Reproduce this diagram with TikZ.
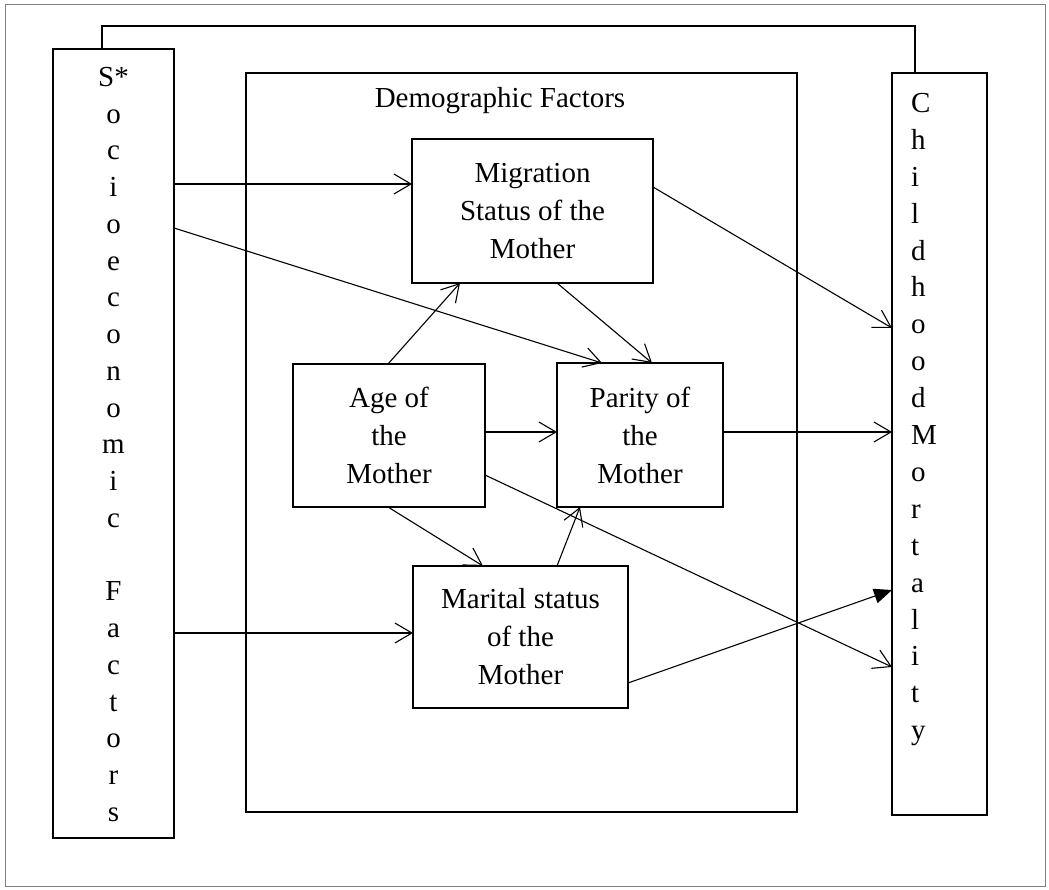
\documentclass[tikz,border=0pt]{standalone}
\usepackage{fontspec}
\setmainfont{Liberation Serif}
\usetikzlibrary{arrows.meta}
\begin{document}
\begin{tikzpicture}[x=1pt,y=-1pt,
  boxed/.style={draw=black,line width=1.6pt,inner sep=0pt,outer sep=0pt,align=center,
    font=\fontsize{29}{38}\selectfont},
  colS/.style={align=center,inner sep=0pt,font=\fontsize{29}{36.75}\selectfont},
  colC/.style={align=left,inner sep=0pt,font=\fontsize{29}{36.9}\selectfont},
  title/.style={inner sep=0pt,font=\fontsize{29}{38}\selectfont},
  arr/.style={line width=1.1pt,-{Straight Barb[length=17pt,width=20pt,line width=1.1pt]}},
  farr/.style={line width=1.1pt,-{Triangle[length=18pt,width=15pt]}},
  link/.style={line width=1.8pt}]
\useasboundingbox (0,0) rectangle (1049,890);
\draw[gray,line width=1pt] (5,5) rectangle (1045,886);
% boxes
\node[boxed,minimum width=121pt,minimum height=789pt] (S) at (113.5,443.5) {};
\node[colS] (Stxt) at (113.5,444.5) {S*\\o\\c\\i\\o\\e\\c\\o\\n\\o\\m\\i\\c\\~\\F\\a\\c\\t\\o\\r\\s};
\node[boxed,minimum width=551pt,minimum height=739pt] (dem) at (521.5,442.5) {};
\node[title] (demt) at (500,101) {Demographic Factors};
\node[boxed,minimum width=95pt,minimum height=742pt] (C) at (939.5,444) {};
\node[colC,anchor=north west] (Ctxt) at (911,93) {C\\h\\i\\l\\d\\h\\o\\o\\d\\M\\o\\r\\t\\a\\l\\i\\t\\y};
\node[boxed,minimum width=241pt,minimum height=144pt] (mig) at (532.5,211) {Migration\\Status of the\\Mother};
\node[boxed,minimum width=192pt,minimum height=143pt] (age) at (389,435.5) {Age of\\the\\Mother};
\node[boxed,minimum width=166pt,minimum height=144pt] (par) at (640,435) {Parity of\\the\\Mother};
\node[boxed,minimum width=215pt,minimum height=142pt] (mar) at (520.5,637) {Marital status\\of the\\Mother};
% top link
\coordinate (tl) at (102,26);
\draw[link] (102,0 |- S.north) -- (tl) -- (915,26) -- (915,0 |- C.north);
% arrows
\draw[arr] (S.east |- 0,184) -- (mig.west |- 0,184);
\draw[arr] (S.east |- 0,228) -- (602,0 |- par.north);
\draw[arr] (S.east |- 0,633) -- (mar.west |- 0,633);
\draw[arr] (mig.east |- 0,187) -- (C.west |- 0,328);
\draw[arr] (557,0 |- mig.south) -- (652,0 |- par.north);
\draw[arr] (388,0 |- age.north) -- (460,0 |- mig.south);
\draw[arr] (age.east |- 0,432) -- (par.west |- 0,432);
\draw[arr] (age.east |- 0,475) -- (C.west |- 0,667);
\draw[arr] (388,0 |- age.south) -- (483,0 |- mar.north);
\draw[arr] (557,0 |- mar.north) -- (580,0 |- par.south);
\draw[arr] (par.east |- 0,432) -- (C.west |- 0,432);
\draw[farr] (mar.east |- 0,683) -- (C.west |- 0,590);
\end{tikzpicture}
\end{document}
